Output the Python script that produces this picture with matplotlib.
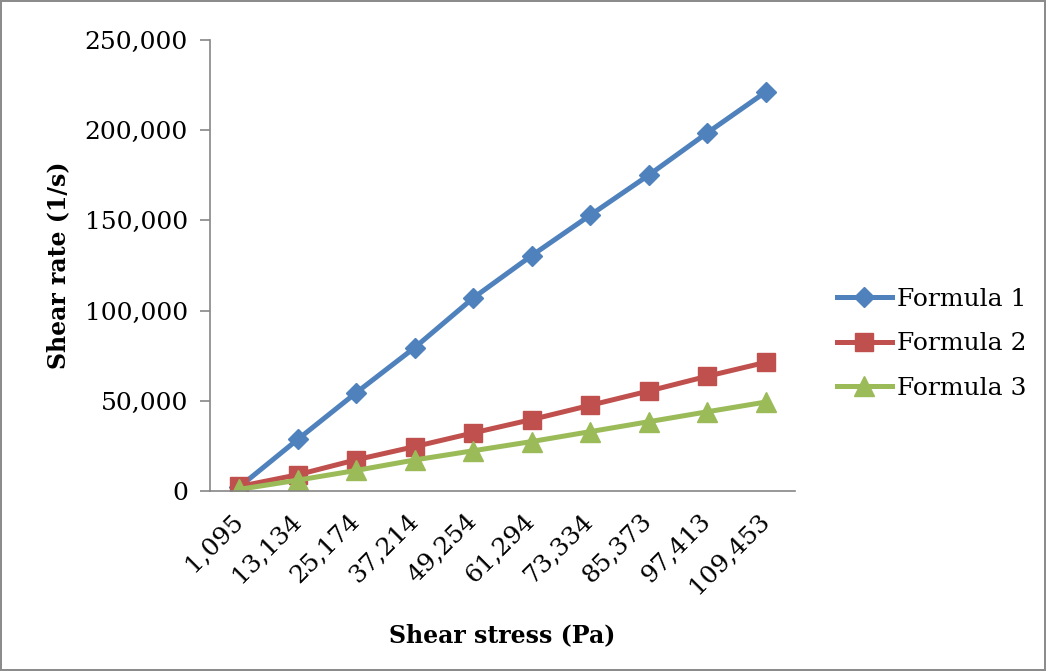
import matplotlib.pyplot as plt
from matplotlib.ticker import FuncFormatter
import numpy as np

stress_labels = ['1,095', '13,134', '25,174', '37,214', '49,254',
                 '61,294', '73,334', '85,373', '97,413', '109,453']
formula_1 = [2200, 28600, 54500, 79500, 107000, 130500, 152900, 175100, 198500, 221200]
formula_2 = [2500, 9000, 17300, 24600, 32200, 39600, 47500, 55400, 63600, 71300]
formula_3 = [900, 6000, 11400, 17200, 22300, 27400, 32900, 38400, 43900, 49300]
series_names = ['Formula 1', 'Formula 2', 'Formula 3']

plt.rcParams['font.family'] = ['DejaVu Serif']

fig = plt.figure(figsize=(10.46, 6.71), dpi=100, linewidth=1.5, edgecolor='#8c8c8c')
ax = fig.add_axes([0.2008, 0.2683, 0.5592, 0.6721])

x = np.arange(len(stress_labels))
ax.plot(x, formula_1, color='#4F81BD', lw=3.6, marker='D', ms=10, label=series_names[0])
ax.plot(x, formula_2, color='#C0504D', lw=3.6, marker='s', ms=13, label=series_names[1])
ax.plot(x, formula_3, color='#9BBB59', lw=3.6, marker='^', ms=14, label=series_names[2])

ax.set_xlim(-0.5, len(stress_labels) - 0.5)
ax.set_ylim(0, 250000)
ax.set_yticks(np.arange(0, 250001, 50000))
ax.yaxis.set_major_formatter(FuncFormatter(lambda v, p: '{:,}'.format(int(v))))
ax.set_xticks(x)
ax.set_xticklabels(stress_labels, rotation=45, ha='right', va='center',
                   rotation_mode='anchor')
ax.tick_params(axis='x', length=0, pad=19, labelsize=18)
ax.tick_params(axis='y', length=7, width=1.2, color='#868686', labelsize=18, pad=9)

for s in ['top', 'right']:
    ax.spines[s].set_visible(False)
for s in ['left', 'bottom']:
    ax.spines[s].set_color('#868686')
    ax.spines[s].set_linewidth(1.2)

ax.set_ylabel('Shear rate (1/s)', fontsize=17, fontweight='bold', labelpad=10)
ax.set_xlabel('Shear stress (Pa)', fontsize=17, fontweight='bold', labelpad=18)

ax.legend(loc='center left', bbox_to_anchor=(1.05, 0.326), frameon=False, fontsize=18,
          handlelength=2.2, handletextpad=0.2, labelspacing=0.85, borderpad=0)

fig.savefig('out.png', dpi=100)
